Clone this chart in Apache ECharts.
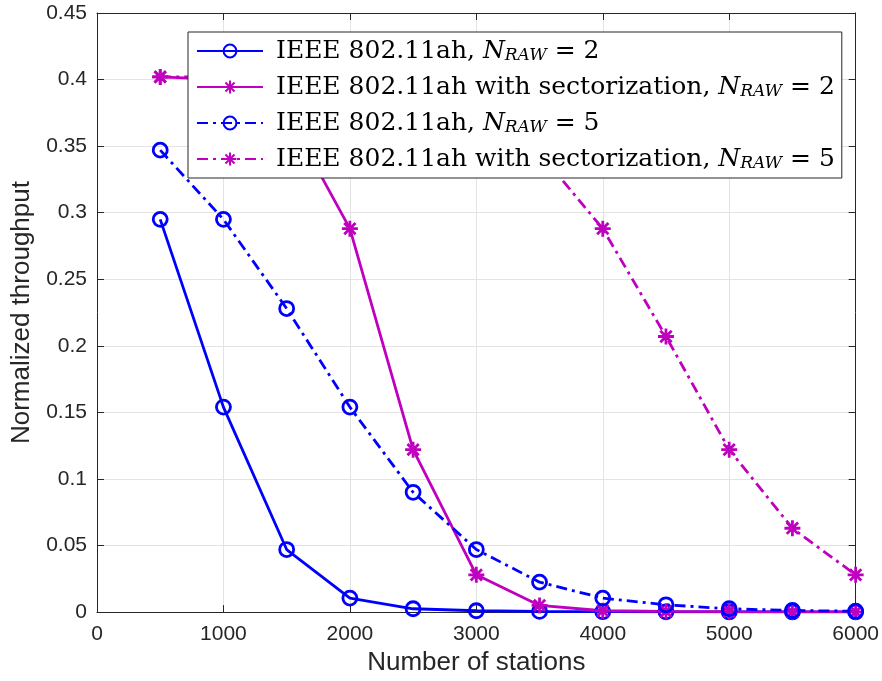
<!DOCTYPE html>
<html>
<head>
<meta charset="utf-8">
<script src="https://cdn.jsdelivr.net/npm/echarts@6/dist/echarts.min.js"></script>
<style>
  html, body { margin: 0; padding: 0; background: #fff; }
  #chart { width: 882px; height: 681px; }
</style>
</head>
<body>
<div id="chart"></div>
<script>
// Number of stations
const stations = [500, 1000, 1500, 2000, 2500, 3000, 3500, 4000, 4500, 5000, 5500, 6000];

// Normalized throughput per scheme
const ahRaw2 = [0.295, 0.154, 0.047, 0.0105, 0.0025, 0.001, 0.0005, 0.0003, 0.0002, 0.0001, 0.0001, 0.0001];
const sectorRaw2 = [0.402, 0.400, 0.375, 0.288, 0.122, 0.028, 0.005, 0.001, 0.0005, 0.0003, 0.0002, 0.0001];
const ahRaw5 = [0.347, 0.295, 0.228, 0.154, 0.090, 0.047, 0.0225, 0.0105, 0.0055, 0.0025, 0.0012, 0.0007];
const sectorRaw5 = [0.402, 0.402, 0.401, 0.400, 0.390, 0.375, 0.345, 0.288, 0.207, 0.122, 0.063, 0.028];

const seriesNames = [
  'IEEE 802.11ah, N_RAW = 2',
  'IEEE 802.11ah with sectorization, N_RAW = 2',
  'IEEE 802.11ah, N_RAW = 5',
  'IEEE 802.11ah with sectorization, N_RAW = 5'
];
// Legend labels with italic N and subscript RAW
const legendLabels = {
  'IEEE 802.11ah, N_RAW = 2': '{f|IEEE 802.11ah, }{i|N}{s|RAW}{m| = 2}',
  'IEEE 802.11ah with sectorization, N_RAW = 2': '{f|IEEE 802.11ah with sectorization, }{i|N}{s|RAW}{m| = 2}',
  'IEEE 802.11ah, N_RAW = 5': '{f|IEEE 802.11ah, }{i|N}{s|RAW}{m| = 5}',
  'IEEE 802.11ah with sectorization, N_RAW = 5': '{f|IEEE 802.11ah with sectorization, }{i|N}{s|RAW}{m| = 5}'
};

const BLUE = '#0000ff';
const MAGENTA = '#bf00bf';
const AXIS = '#262626';
const GRIDC = '#e3e3e3';
const SANS = 'Liberation Sans, Arial, sans-serif';
const SERIF = 'DejaVu Serif, serif';
const ASTERISK = 'path://M0,-10L0,10M-10,0L10,0M-7.07,-7.07L7.07,7.07M-7.07,7.07L7.07,-7.07';
const DASHDOT = [11, 5, 3, 5];

const pair = (ys) => stations.map((x, i) => [x, ys[i]]);

function makeSeries(name, ys, color, dashed, star) {
  return {
    name: name,
    type: 'line',
    data: pair(ys),
    xAxisIndex: 0,
    yAxisIndex: 0,
    symbol: star ? ASTERISK : 'circle',
    symbolSize: star ? 16 : 14,
    showAllSymbol: true,
    lineStyle: { color: color, width: 2.8, type: dashed ? DASHDOT : 'solid' },
    itemStyle: star
      ? { color: color, borderColor: color, borderWidth: 2.8 }
      : { color: 'rgba(0,0,0,0)', borderColor: color, borderWidth: 2.8 },
    emphasis: { disabled: true },
    animation: false
  };
}

const tickStyle = { inside: true, length: 7, lineStyle: { color: AXIS, width: 1 } };
const lineAx = { show: true, onZero: false, lineStyle: { color: AXIS, width: 1 } };
const plain = (v) => String(v);

const chart = echarts.init(document.getElementById('chart'), null, { renderer: 'canvas' });
chart.setOption({
  backgroundColor: '#fff',
  animation: false,
  grid: { left: 97, right: 21, top: 13, bottom: 68, containLabel: false },
  xAxis: [
    {
      type: 'value', min: 0, max: 6000, interval: 1000, position: 'bottom',
      name: 'Number of stations', nameLocation: 'middle', nameGap: 35,
      nameTextStyle: { fontFamily: SANS, fontSize: 26, color: AXIS },
      axisLine: lineAx, axisTick: tickStyle,
      axisLabel: { fontFamily: SANS, fontSize: 21, color: AXIS, margin: 12, formatter: plain },
      splitLine: { show: true, lineStyle: { color: GRIDC, width: 1 } }
    },
    {
      type: 'value', min: 0, max: 6000, interval: 1000, position: 'top',
      axisLine: lineAx, axisTick: tickStyle, axisLabel: { show: false },
      splitLine: { show: false }
    }
  ],
  yAxis: [
    {
      type: 'value', min: 0, max: 0.45, interval: 0.05, position: 'left',
      name: 'Normalized throughput', nameLocation: 'middle', nameGap: 61, nameRotate: 90,
      nameTextStyle: { fontFamily: SANS, fontSize: 26, color: AXIS },
      axisLine: lineAx, axisTick: tickStyle,
      axisLabel: { fontFamily: SANS, fontSize: 21, color: AXIS, margin: 10, formatter: plain },
      splitLine: { show: true, lineStyle: { color: GRIDC, width: 1 } }
    },
    {
      type: 'value', min: 0, max: 0.45, interval: 0.05, position: 'right',
      axisLine: lineAx, axisTick: tickStyle, axisLabel: { show: false },
      splitLine: { show: false }
    }
  ],
  legend: {
    orient: 'vertical',
    left: 188, top: 32,
    padding: [6, 7, 6, 8],
    itemGap: 10,
    itemWidth: 66,
    itemHeight: 16,
    backgroundColor: '#fff',
    borderColor: AXIS,
    borderWidth: 1,
    borderRadius: 0,
    data: seriesNames,
    formatter: (name) => legendLabels[name],
    textStyle: {
      rich: {
        f: { fontFamily: SERIF, fontSize: 25, color: '#000', lineHeight: 26, padding: [0, 0, 0, 8] },
        m: { fontFamily: SERIF, fontSize: 25, color: '#000', lineHeight: 26 },
        i: { fontFamily: SERIF, fontStyle: 'italic', fontSize: 25, color: '#000', lineHeight: 26 },
        s: { fontFamily: SERIF, fontStyle: 'italic', fontSize: 17, color: '#000', lineHeight: 17, padding: [9, 0, 0, 0] }
      }
    }
  },
  series: [
    makeSeries(seriesNames[0], ahRaw2, BLUE, false, false),
    makeSeries(seriesNames[1], sectorRaw2, MAGENTA, false, true),
    makeSeries(seriesNames[2], ahRaw5, BLUE, true, false),
    makeSeries(seriesNames[3], sectorRaw5, MAGENTA, true, true)
  ]
});
</script>
</body>
</html>
